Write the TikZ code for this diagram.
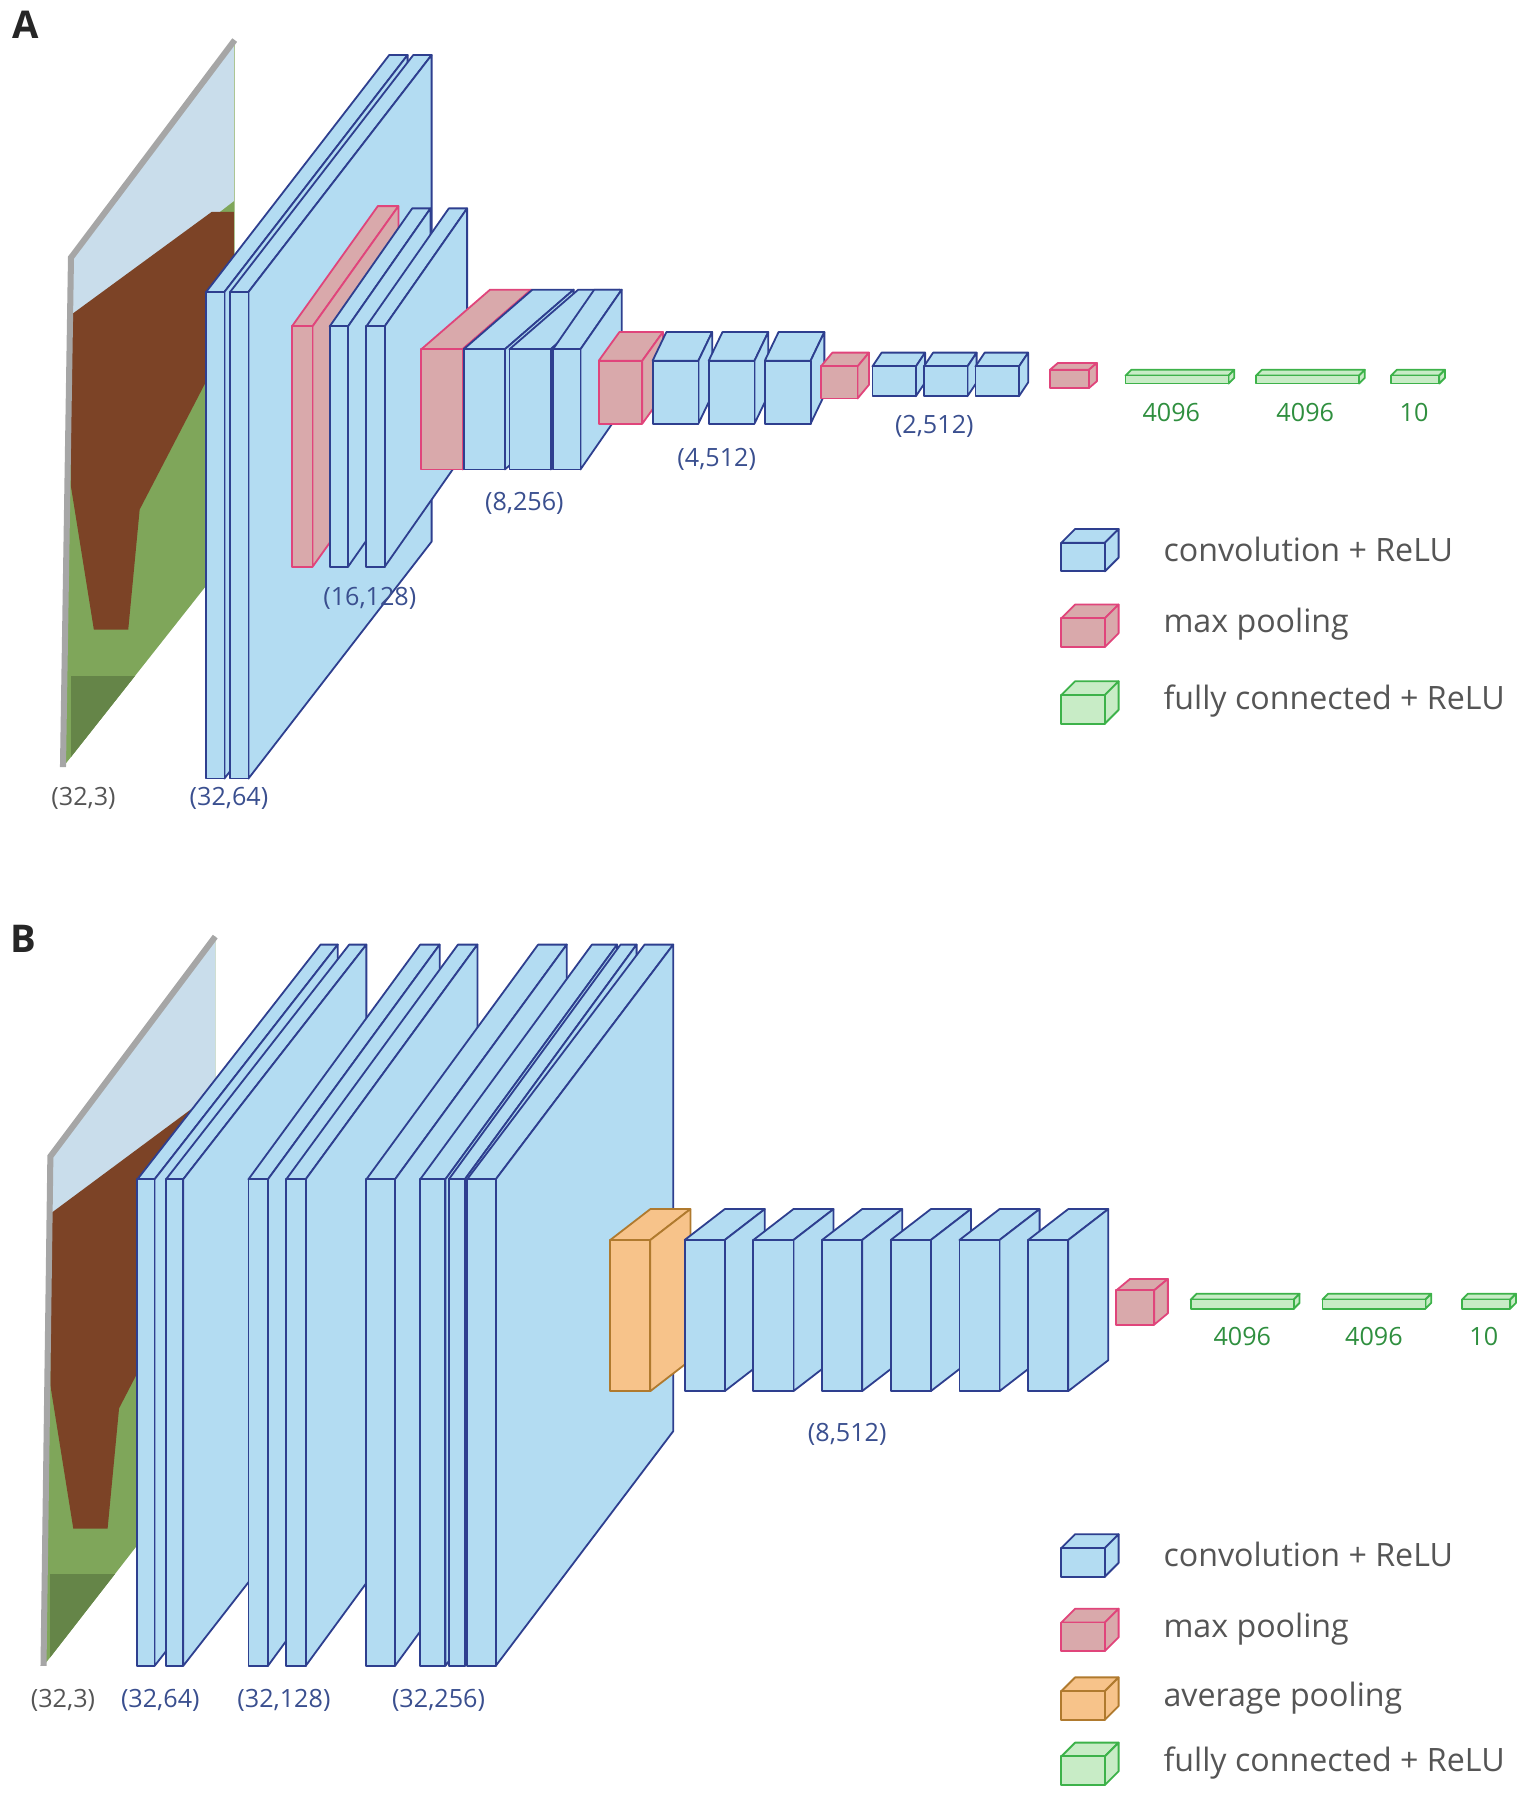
\documentclass[tikz,border=0pt]{standalone}
\usepackage{fontspec}
\setmainfont{Open Sans}
\definecolor{cf}{HTML}{B3DCF2}\definecolor{cd}{HTML}{2E3F8F}
\definecolor{pf}{HTML}{D9A9AB}\definecolor{pd}{HTML}{E0457B}
\definecolor{gf}{HTML}{C8ECC6}\definecolor{gd}{HTML}{3DB24A}
\definecolor{of}{HTML}{F7C38A}\definecolor{od}{HTML}{B07A2E}
\definecolor{tb}{HTML}{3A4F8F}\definecolor{tg}{HTML}{2F8F3F}\definecolor{tk}{HTML}{555555}
\definecolor{grass}{HTML}{7FA65A}\definecolor{horse}{HTML}{8A4A2A}\definecolor{sky}{HTML}{C9DDEB}
\newcommand\cub[7]{%
\draw[#7] (#1,#2) -- ++(#5,-#6) -- ++(#3,0) -- ++(-#5,#6) -- cycle;
\draw[#7] (#1+#3,#2) -- ++(#5,-#6) -- ++(0,#4) -- ++(-#5,#6) -- cycle;
\draw[#7] (#1,#2) rectangle ++(#3,#4);}
\newcommand\photo[8]{% corners
\begin{scope}
\clip (#1,#2) -- (#3,#4) -- (#5,#6) -- (#7,#8) -- cycle;
\fill[grass] (0,0) rectangle (1400,1700);
\fill[sky] (#3,#4) -- (#1,#2) -- ++(0,60) -- (#3,#4|-0,#4+140) -- cycle;
\fill[horse!90!black] (#1,#2+50) -- (#3-20,#4+150) -- (#3,#4+150) -- (#3,#4+250) -- (#1+60,#2+220) -- (#1+50,#8-120) -- (#1+20,#8-120) -- (#1,#2+200) -- cycle;
\fill[grass!80!black] (#1,#8-80) rectangle (#3,#8);
\end{scope}
\draw[gray!70,line width=3pt] (#7,#8) -- (#1,#2) -- (#3,#4);}
\tikzset{x=0.02cm,y=-0.02cm,
conv/.style={fill=cf,draw=cd,line width=0.9pt,line join=round},
pool/.style={fill=pf,draw=pd,line width=0.9pt,line join=round},
fc/.style={fill=gf,draw=gd,line width=0.9pt,line join=round},
avg/.style={fill=of,draw=od,line width=0.9pt,line join=round},
lb/.style={text=tb,font=\fontsize{12.5}{14}\selectfont},
lk/.style={text=tk,font=\fontsize{12.5}{14}\selectfont},
lg/.style={text=tg,font=\fontsize{12.5}{14}\selectfont},
leg/.style={text=tk,anchor=west,font=\fontsize{16}{19}\selectfont},
ttl/.style={font=\bfseries\fontsize{19}{22}\selectfont,text=black!85}}
\begin{document}
\begin{tikzpicture}
\useasboundingbox (0,0) rectangle (1340,1573);
\node[ttl] (tA) at (22,22) {A};
\node[ttl] (tB) at (20,820) {B};
% ---- A
\photo{62}{225}{205}{35}{205}{480}{55}{670}
\cub{180}{255}{16}{425}{160}{207}{conv}
\cub{201}{255}{16}{425}{160}{207}{conv}
\cub{255}{285}{18}{210}{75}{105}{pool}
\cub{288}{285}{16}{210}{72}{103}{conv}
\cub{320}{285}{16}{210}{72}{103}{conv}
\cub{368}{305}{36}{105}{60}{52}{pool}
\cub{405}{305}{36}{105}{60}{52}{conv}
\cub{445}{305}{36}{105}{60}{52}{conv}
\cub{483}{305}{24}{105}{36}{52}{conv}
\cub{523}{315}{38}{55}{18}{25}{pool}
\cub{570}{315}{40}{55}{12}{25}{conv}
\cub{619}{315}{40}{55}{12}{25}{conv}
\cub{668}{315}{40}{55}{12}{25}{conv}
\cub{717}{320}{32}{28}{10}{12}{pool}
\cub{762}{320}{38}{26}{8}{12}{conv}
\cub{807}{320}{38}{26}{8}{12}{conv}
\cub{852}{320}{38}{26}{8}{12}{conv}
\cub{917}{323}{34}{16}{7}{6}{pool}
\cub{983}{328}{90}{7}{5}{5}{fc}
\cub{1097}{328}{90}{7}{5}{5}{fc}
\cub{1215}{328}{42}{7}{5}{5}{fc}
\node[lg] (a1) at (1023,360) {4096};
\node[lg] (a2) at (1140,360) {4096};
\node[lg] (a3) at (1235,360) {10};
\node[lb] (a4) at (816,372) {(2,512)};
\node[lb] (a5) at (626,401) {(4,512)};
\node[lb] (a6) at (458,440) {(8,256)};
\node[lb] (a7) at (323,523) {(16,128)};
\node[lk] (a8) at (73,697) {(32,3)};
\node[lb] (a9) at (200,697) {(32,64)};
\cub{927}{474}{38}{25}{12}{12}{conv}\node[leg] (l1) at (1010,480) {convolution + ReLU};
\cub{927}{540}{38}{25}{12}{12}{pool}\node[leg] (l2) at (1010,545) {max pooling};
\cub{927}{607}{38}{25}{12}{12}{fc}\node[leg] (l3) at (1010,612) {fully connected + ReLU};
% ---- B
\photo{44}{1010}{188}{818}{188}{1262}{38}{1455}
\cub{120}{1030}{15}{425}{160}{205}{conv}
\cub{145}{1030}{15}{425}{160}{205}{conv}
\cub{217}{1030}{17}{425}{150}{205}{conv}
\cub{250}{1030}{17}{425}{150}{205}{conv}
\cub{320}{1030}{25}{425}{150}{205}{conv}
\cub{367}{1030}{22}{425}{150}{205}{conv}
\cub{392}{1030}{14}{425}{150}{205}{conv}
\cub{408}{1030}{25}{425}{155}{205}{conv}
\cub{533}{1083}{35}{132}{35}{27}{avg}
\cub{598}{1083}{35}{132}{35}{27}{conv}
\cub{658}{1083}{35}{132}{35}{27}{conv}
\cub{718}{1083}{35}{132}{35}{27}{conv}
\cub{778}{1083}{35}{132}{35}{27}{conv}
\cub{838}{1083}{35}{132}{35}{27}{conv}
\cub{898}{1083}{35}{132}{35}{27}{conv}
\cub{975}{1127}{33}{30}{12}{10}{pool}
\cub{1040}{1135}{90}{8}{5}{5}{fc}
\cub{1155}{1135}{90}{8}{5}{5}{fc}
\cub{1277}{1135}{42}{8}{5}{5}{fc}
\node[lg] (b1) at (1085,1167) {4096};
\node[lg] (b2) at (1200,1167) {4096};
\node[lg] (b3) at (1296,1167) {10};
\node[lb] (b4) at (740,1253) {(8,512)};
\node[lk] (b5) at (55,1485) {(32,3)};
\node[lb] (b6) at (140,1485) {(32,64)};
\node[lb] (b7) at (248,1485) {(32,128)};
\node[lb] (b8) at (383,1485) {(32,256)};
\cub{927}{1352}{38}{25}{12}{12}{conv}\node[leg] (m1) at (1010,1358) {convolution + ReLU};
\cub{927}{1417}{38}{25}{12}{12}{pool}\node[leg] (m2) at (1010,1423) {max pooling};
\cub{927}{1477}{38}{25}{12}{12}{avg}\node[leg] (m3) at (1010,1483) {average pooling};
\cub{927}{1534}{38}{25}{12}{12}{fc}\node[leg] (m4) at (1010,1540) {fully connected + ReLU};
\end{tikzpicture}
\end{document}
